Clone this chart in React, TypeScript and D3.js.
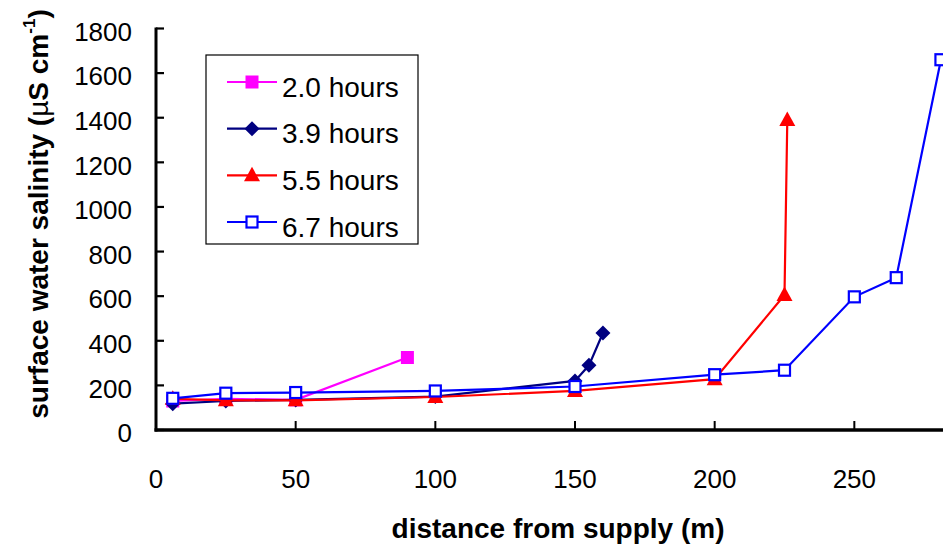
import React from 'react';
import * as d3 from 'd3';

// distance from supply (m) and surface water salinity (uS/cm) for each run
const dist20 = [6, 25, 50, 90];
const sal20 = [130, 140, 135, 325];

const dist39 = [6, 25, 50, 100, 150, 155, 160];
const sal39 = [118, 130, 135, 150, 220, 290, 435];

const dist55 = [6, 25, 50, 100, 150, 200, 225, 226];
const sal55 = [140, 133, 133, 148, 175, 228, 605, 1390];

const dist67 = [6, 25, 50, 100, 150, 200, 225, 250, 265, 281];
const sal67 = [142, 165, 168, 175, 195, 248, 268, 597, 683, 1660];

const seriesNames = ['2.0 hours', '3.9 hours', '5.5 hours', '6.7 hours'];
const xTicks = [0, 50, 100, 150, 200, 250];
const yTicks = [0, 200, 400, 600, 800, 1000, 1200, 1400, 1600, 1800];

const W = 943;
const H = 554;
const FONT = 'Arial, "Liberation Sans", Helvetica, sans-serif';

const x = d3.scaleLinear().domain([0, 300]).range([156, 994]);
const y = d3.scaleLinear().domain([0, 1800]).range([430, 28.5]);

type Kind = 'square' | 'diamond' | 'triangle' | 'open';

const series = [
  { name: seriesNames[0], xs: dist20, ys: sal20, color: '#FF00FF', kind: 'square' as Kind },
  { name: seriesNames[1], xs: dist39, ys: sal39, color: '#000080', kind: 'diamond' as Kind },
  { name: seriesNames[2], xs: dist55, ys: sal55, color: '#FF0000', kind: 'triangle' as Kind },
  { name: seriesNames[3], xs: dist67, ys: sal67, color: '#0000FF', kind: 'open' as Kind },
];

function Marker({ kind, color, cx, cy }: { kind: Kind; color: string; cx: number; cy: number }) {
  if (kind === 'square') {
    return <rect x={cx - 6.5} y={cy - 6.5} width={13} height={13} fill={color} />;
  }
  if (kind === 'diamond') {
    return <path d={`M${cx},${cy - 7.5}L${cx + 7.5},${cy}L${cx},${cy + 7.5}L${cx - 7.5},${cy}Z`} fill={color} />;
  }
  if (kind === 'triangle') {
    return <path d={`M${cx},${cy - 8.5}L${cx + 8},${cy + 6}L${cx - 8},${cy + 6}Z`} fill={color} />;
  }
  return <rect x={cx - 5.5} y={cy - 5.5} width={11} height={11} fill="#fff" stroke={color} strokeWidth={2.2} />;
}

export default function App() {
  const line = d3
    .line<[number, number]>()
    .x((d) => x(d[0]))
    .y((d) => y(d[1]));

  const legendX = 206;
  const legendY = 55;
  const rowY = d3.scaleLinear().domain([0, 3]).range([82, 222]);

  return (
    <svg
      width={W}
      height={H}
      style={{ position: 'absolute', left: 0, top: 0, background: '#fff' }}
      fontFamily={FONT}
    >
      {/* y axis */}
      <line x1={156} x2={156} y1={y(0) + 1.5} y2={y(1800) - 1} stroke="#000" strokeWidth={3} />
      {yTicks.map((t) => (
        <g key={'y' + t}>
          <line x1={156} x2={164} y1={y(t)} y2={y(t)} stroke="#000" strokeWidth={2.2} />
          <text x={132} y={y(t) + 12.3} fontSize={26} textAnchor="end" fill="#000">
            {t}
          </text>
        </g>
      ))}

      {/* x axis */}
      <line x1={154.5} x2={W} y1={y(0)} y2={y(0)} stroke="#000" strokeWidth={3.5} />
      {xTicks.map((t) => (
        <g key={'x' + t}>
          {t > 0 && <line x1={x(t)} x2={x(t)} y1={y(0)} y2={y(0) - 9} stroke="#000" strokeWidth={2} />}
          <text x={x(t)} y={488} fontSize={26} textAnchor="middle" fill="#000">
            {t}
          </text>
        </g>
      ))}

      {/* series */}
      {series.map((s) => {
        const pts = s.xs.map((d, i) => [d, s.ys[i]] as [number, number]);
        return (
          <g key={s.name}>
            <path d={line(pts) || ''} fill="none" stroke={s.color} strokeWidth={2.2} />
            {pts.map((p, i) => (
              <Marker key={i} kind={s.kind} color={s.color} cx={x(p[0])} cy={y(p[1])} />
            ))}
          </g>
        );
      })}

      {/* legend */}
      <rect x={legendX} y={legendY} width={212} height={189} fill="#fff" stroke="#000" strokeWidth={1.2} />
      {series.map((s, i) => (
        <g key={'lg' + s.name}>
          <line x1={227} x2={277} y1={rowY(i)} y2={rowY(i)} stroke={s.color} strokeWidth={2.2} />
          <Marker kind={s.kind} color={s.color} cx={252} cy={rowY(i)} />
          <text x={282} y={rowY(i) + 14.5} fontSize={28} fill="#000">
            {s.name}
          </text>
        </g>
      ))}

      {/* axis titles */}
      <text x={558} y={538} fontSize={28} fontWeight="bold" textAnchor="middle" fill="#000">
        distance from supply (m)
      </text>
      <text
        transform="translate(48,214) rotate(-90)"
        fontSize={28}
        fontWeight="bold"
        textAnchor="middle"
        fill="#000"
      >
        surface water salinity (<tspan fontWeight="normal">µ</tspan>S cm
        <tspan fontSize={17} dy={-13}>-1</tspan>
        <tspan dy={13}>)</tspan>
      </text>
    </svg>
  );
}
